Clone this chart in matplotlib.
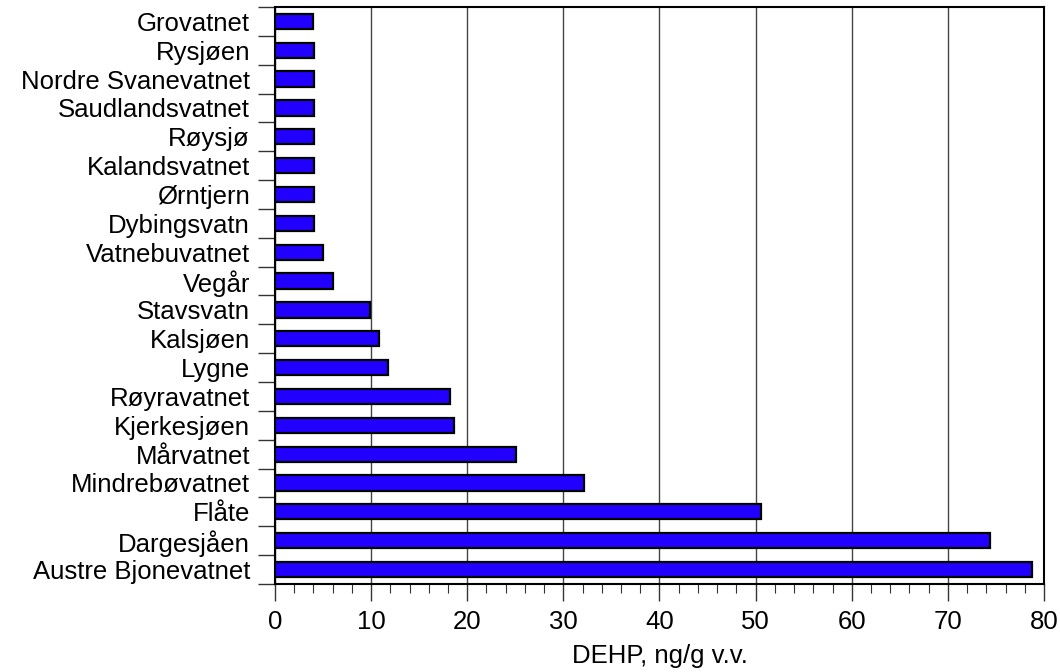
import numpy as np
import matplotlib
matplotlib.use("Agg")
import matplotlib.pyplot as plt
from matplotlib.ticker import MultipleLocator, FixedLocator

# DEHP i fisk, innsjøer sortert fra lavest (øverst) til høyest (nederst)
lakes = [
    "Grovatnet", "Rysjøen", "Nordre Svanevatnet", "Saudlandsvatnet", "Røysjø",
    "Kalandsvatnet", "Ørntjern", "Dybingsvatn", "Vatnebuvatnet", "Vegår",
    "Stavsvatn", "Kalsjøen", "Lygne", "Røyravatnet", "Kjerkesjøen",
    "Mårvatnet", "Mindrebøvatnet", "Flåte", "Dargesjåen", "Austre Bjonevatnet",
]
dehp = [
    4.0, 4.1, 4.1, 4.1, 4.1,
    4.1, 4.1, 4.1, 5.0, 6.0,
    9.9, 10.8, 11.8, 18.2, 18.6,
    25.1, 32.1, 50.6, 74.4, 78.8,
]

plt.rcParams["font.family"] = ["Liberation Sans", "DejaVu Sans"]
plt.rcParams["font.size"] = 18.5

fig = plt.figure(figsize=(10.6, 6.72), dpi=100)
ax = fig.add_axes([0.2594, 0.131, 0.9849 - 0.2594, 0.9896 - 0.131])

y = np.arange(len(lakes))
ax.barh(y, dehp, height=0.53, color="#2200ff", edgecolor="black",
        linewidth=1.6, zorder=3)

ax.set_xlim(0, 80)
ax.set_ylim(len(lakes) - 0.5, -0.5)

ax.xaxis.set_major_locator(MultipleLocator(10))
ax.xaxis.set_minor_locator(MultipleLocator(2))
ax.grid(axis="x", which="major", color="#444444", linewidth=1.0, zorder=0)

# navn midt på stolpene, tick-streker mellom kategoriene
ax.set_yticks(y)
ax.set_yticklabels(lakes)
ax.yaxis.set_minor_locator(FixedLocator(np.arange(-0.5, len(lakes), 1.0)))
ax.tick_params(axis="y", which="major", length=0, pad=18)
ax.tick_params(axis="y", which="minor", length=12, width=1.0, color="#333333",
               direction="out")
ax.tick_params(axis="x", which="major", length=12, width=1.0, color="#333333",
               direction="out", pad=7)
ax.tick_params(axis="x", which="minor", length=6.5, width=0.8, color="#333333",
               direction="out")

for s in ax.spines.values():
    s.set_linewidth(1.5)
    s.set_color("black")

ax.set_xlabel("DEHP, ng/g v.v.", labelpad=7)

fig.savefig("out.png", dpi=100)
